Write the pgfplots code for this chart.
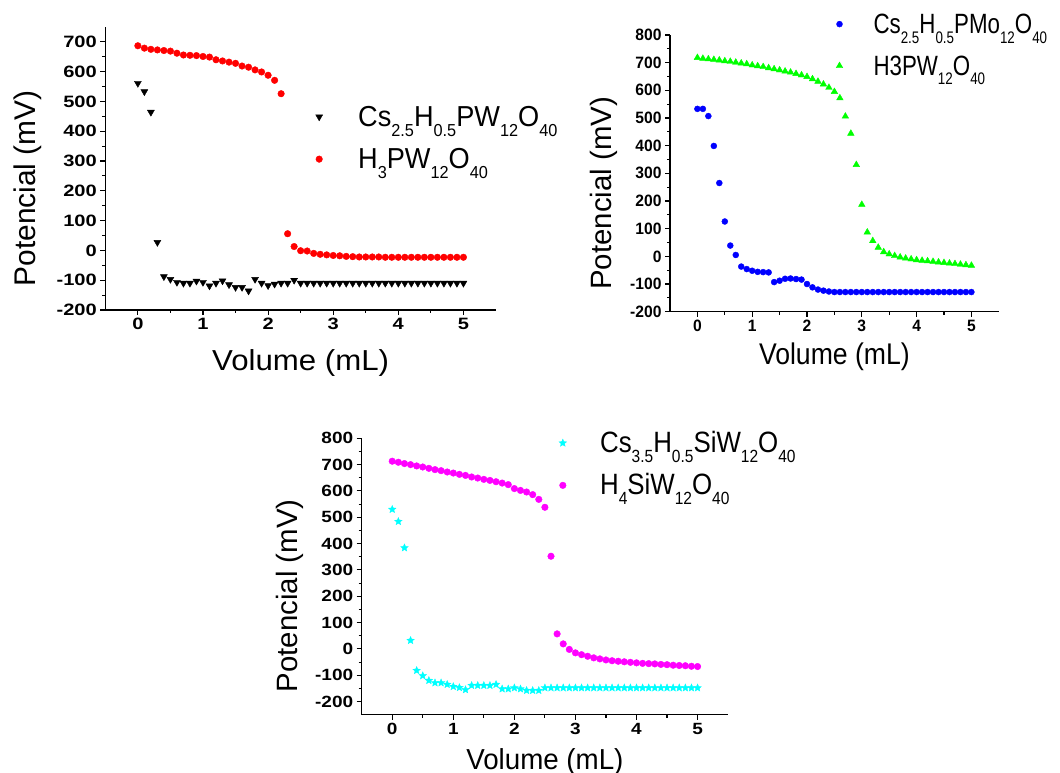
\documentclass[border=0pt]{standalone}
\usepackage{fontspec}
\setmainfont{Liberation Sans}
\usepackage{graphicx}
\usepackage{pgfplots}
\pgfplotsset{compat=1.18}

\definecolor{pwred}{RGB}{255,0,0}
\definecolor{pmoblue}{RGB}{0,0,255}
\definecolor{pwgreen}{RGB}{0,255,0}
\definecolor{siwcyan}{RGB}{0,255,255}
\definecolor{siwmag}{RGB}{255,0,255}

% font of a given size and horizontal stretch
\newcommand\F[2]{\fontspec{Liberation Sans}[FakeStretch=#2]\fontsize{#1}{#1}\selectfont}
% lowered, reduced subscript as used in the formulas
\newcommand\sub[1]{\raisebox{-0.34em}{\scalebox{0.6}{#1}}}

% filled five-pointed star
\pgfdeclareplotmark{fstar}{%
  \pgfpathmoveto{\pgfpointpolar{90}{\pgfplotmarksize}}%
  \pgfpathlineto{\pgfpointpolar{126}{0.45\pgfplotmarksize}}%
  \pgfpathlineto{\pgfpointpolar{162}{\pgfplotmarksize}}%
  \pgfpathlineto{\pgfpointpolar{198}{0.45\pgfplotmarksize}}%
  \pgfpathlineto{\pgfpointpolar{234}{\pgfplotmarksize}}%
  \pgfpathlineto{\pgfpointpolar{270}{0.45\pgfplotmarksize}}%
  \pgfpathlineto{\pgfpointpolar{306}{\pgfplotmarksize}}%
  \pgfpathlineto{\pgfpointpolar{342}{0.45\pgfplotmarksize}}%
  \pgfpathlineto{\pgfpointpolar{18}{\pgfplotmarksize}}%
  \pgfpathlineto{\pgfpointpolar{54}{0.45\pgfplotmarksize}}%
  \pgfpathclose
  \pgfusepathqfillstroke
}

\pgfplotsset{
  titr/.style={
    scale only axis, anchor=south west,
    axis x line*=bottom, axis y line*=left,
    xmin=-0.5, xmax=5.5, xtick={0,1,2,3,4,5},
    minor x tick num=1, minor y tick num=1,
    tick align=outside, major tick length=5bp, minor tick length=3bp,
    every tick/.style={black, line width=1.1bp},
    axis line style={line width=1.1bp},
    /pgf/number format/assume math mode=true,
    only marks,
    legend cell align=left,
    legend image code/.code={\path[draw=none,fill=none] (-6bp,0bp) (6bp,0bp); \draw[##1] plot coordinates {(0bp,9.5bp)};},
  },
}

\pgfplotstableread{
x   cs    h
0.0 561   687
0.1 533   679
0.2 464   675
0.3 27    673
0.4 -88   671
0.5 -97   669
0.6 -107  662
0.7 -110  656
0.8 -110  655
0.9 -103  654
1.0 -107  651
1.1 -119  649
1.2 -110  640
1.3 -102  636
1.4 -115  632
1.5 -124  628
1.6 -124  619
1.7 -136  615
1.8 -97   606
1.9 -110  599
2.0 -118  588
2.1 -113  571
2.2 -110  526
2.3 -110  56
2.4 -100  13
2.5 -110  -1
2.6 -110  -2
2.7 -110  -10
2.8 -110  -13
2.9 -110  -15
3.0 -110  -17
3.1 -110  -18
3.2 -110  -20
3.3 -110  -21
3.4 -110  -22
3.5 -110  -22
3.6 -110  -22
3.7 -110  -22
3.8 -110  -23
3.9 -110  -23
4.0 -110  -23
4.1 -110  -23
4.2 -110  -23
4.3 -110  -23
4.4 -110  -23
4.5 -110  -23
4.6 -110  -23
4.7 -110  -23
4.8 -110  -23
4.9 -110  -23
5.0 -110  -23
}\pwdata

\pgfplotstableread{
x   cs    h
0.0 533   718
0.1 533   715
0.2 507   713
0.3 399   711
0.4 265   709
0.5 126   706
0.6 39    704
0.7 5     701
0.8 -37   698
0.9 -46   695
1.0 -52   691
1.1 -56   688
1.2 -57   685
1.3 -58   681
1.4 -93   677
1.5 -88   673
1.6 -81   669
1.7 -80   665
1.8 -82   660
1.9 -84   655
2.0 -100  649
2.1 -112  641
2.2 -120  632
2.3 -124  622
2.4 -127  610
2.5 -129  595
2.6 -129  572
2.7 -129  506
2.8 -129  444
2.9 -129  331
3.0 -129  187
3.1 -129  87
3.2 -129  56
3.3 -129  32
3.4 -129  16
3.5 -129  8
3.6 -129  2
3.7 -129  -3
3.8 -129  -7
3.9 -129  -10
4.0 -129  -13
4.1 -129  -15
4.2 -129  -17
4.3 -129  -19
4.4 -129  -21
4.5 -129  -23
4.6 -129  -25
4.7 -129  -27
4.8 -129  -29
4.9 -129  -31
5.0 -129  -33
}\pmodata

\pgfplotstableread{
x   cs    h
0.0 530   713
0.1 484   709
0.2 384   704
0.3 32    700
0.4 -82   695
0.5 -102  691
0.6 -120  686
0.7 -129  681
0.8 -129  677
0.9 -135  672
1.0 -143  668
1.1 -147  663
1.2 -155  659
1.3 -139  653
1.4 -139  649
1.5 -139  644
1.6 -139  640
1.7 -135  635
1.8 -152  630
1.9 -152  624
2.0 -148  609
2.1 -152  602
2.2 -158  596
2.3 -158  586
2.4 -158  568
2.5 -148  538
2.6 -148  352
2.7 -148  57
2.8 -148  19
2.9 -148  -2
3.0 -148  -15
3.1 -148  -22
3.2 -148  -28
3.3 -148  -34
3.4 -148  -38
3.5 -148  -42
3.6 -148  -45
3.7 -148  -47
3.8 -148  -49
3.9 -148  -51
4.0 -148  -53
4.1 -148  -55
4.2 -148  -56
4.3 -148  -57
4.4 -148  -59
4.5 -148  -60
4.6 -148  -62
4.7 -148  -63
4.8 -148  -64
4.9 -148  -66
5.0 -148  -67
}\siwdata

\begin{document}
\begin{tikzpicture}
\useasboundingbox (0,0) rectangle (1060bp,773bp);

% --- phosphotungstic acid and its caesium salt
\begin{axis}[titr,
  at={(105.3bp,463bp)}, width=390.7bp, height=283bp,
  ymin=-200, ymax=750, ytick={-200,-100,...,700},
  ticklabel style={font=\F{16.5}{1.22}\bfseries},
  xlabel={Volume (mL)}, ylabel={Potencial (mV)},
  xlabel style={font=\F{29}{1.08}, at={(axis description cs:0.5,-0.187)}, anchor=center},
  ylabel style={font=\F{30}{1}, at={(axis description cs:-0.198,0.43)}, anchor=center},
  legend style={draw=none, fill=none, inner sep=0pt, row sep=0pt,
    at={(0.5316,0.7244)}, anchor=north west,
    font=\F{29}{0.94},
    nodes={inner sep=0pt, text height=21bp, text depth=21.3bp},
    /tikz/every odd column/.append style={column sep=33bp}},
]
\addplot[mark=triangle*, mark size=4bp, mark options={rotate=180, fill=black, draw=black}] table[x=x, y=cs] {\pwdata};
\addlegendentry{Cs\sub{2.5}H\sub{0.5}PW\sub{12}O\sub{40}}
\addplot[mark=*, mark size=3.3bp, mark options={fill=pwred, draw=pwred}] table[x=x, y=h] {\pwdata};
\addlegendentry{H\sub{3}PW\sub{12}O\sub{40}}
\end{axis}

% --- phosphomolybdate salt and phosphotungstic acid
\begin{axis}[titr,
  at={(670bp,461.3bp)}, width=328.8bp, height=276.7bp,
  ymin=-200, ymax=800, ytick={-200,-100,...,800},
  ticklabel style={font=\F{16.5}{0.95}\bfseries},
  xlabel={Volume (mL)}, ylabel={Potencial (mV)},
  xlabel style={font=\F{30}{0.89}, at={(axis description cs:0.5,-0.164)}, anchor=center},
  ylabel style={font=\F{29.5}{1}, at={(axis description cs:-0.2,0.428)}, anchor=center},
  legend style={draw=none, fill=none, inner sep=0pt, row sep=0pt,
    at={(0.4967,1.081)}, anchor=north west,
    font=\F{28}{0.8},
    nodes={inner sep=0pt, text height=21bp, text depth=20.7bp},
    /tikz/every odd column/.append style={column sep=28bp}},
]
\addplot[mark=*, mark size=3bp, mark options={fill=pmoblue, draw=pmoblue}] table[x=x, y=cs] {\pmodata};
\addlegendentry{Cs\sub{2.5}H\sub{0.5}PMo\sub{12}O\sub{40}}
\addplot[mark=triangle*, mark size=3.8bp, mark options={fill=pwgreen, draw=pwgreen}] table[x=x, y=h] {\pmodata};
\addlegendentry{H3PW\sub{12}O\sub{40}}
\end{axis}

% --- silicotungstic acid and its caesium salt
\begin{axis}[titr,
  at={(361.7bp,58.3bp)}, width=366.4bp, height=276.4bp,
  ymin=-250, ymax=800, ytick={-200,-100,...,800},
  ticklabel style={font=\F{16.3}{1.17}\bfseries},
  xlabel={Volume (mL)}, ylabel={Potencial (mV)},
  xlabel style={font=\F{29}{0.96}, at={(axis description cs:0.5,-0.171)}, anchor=center},
  ylabel style={font=\F{29.5}{1}, at={(axis description cs:-0.196,0.43)}, anchor=center},
  legend style={draw=none, fill=none, inner sep=0pt, row sep=0pt,
    at={(0.532,1.0257)}, anchor=north west,
    font=\F{29.5}{0.88},
    nodes={inner sep=0pt, text height=21bp, text depth=21.3bp},
    /tikz/every odd column/.append style={column sep=31.3bp}},
]
\addplot[mark=fstar, mark size=4bp, mark options={fill=siwcyan, draw=siwcyan, line width=0.3bp}] table[x=x, y=cs] {\siwdata};
\addlegendentry{Cs\sub{3.5}H\sub{0.5}SiW\sub{12}O\sub{40}}
\addplot[mark=*, mark size=3.3bp, mark options={fill=siwmag, draw=siwmag}] table[x=x, y=h] {\siwdata};
\addlegendentry{H\sub{4}SiW\sub{12}O\sub{40}}
\end{axis}
\end{tikzpicture}
\end{document}
